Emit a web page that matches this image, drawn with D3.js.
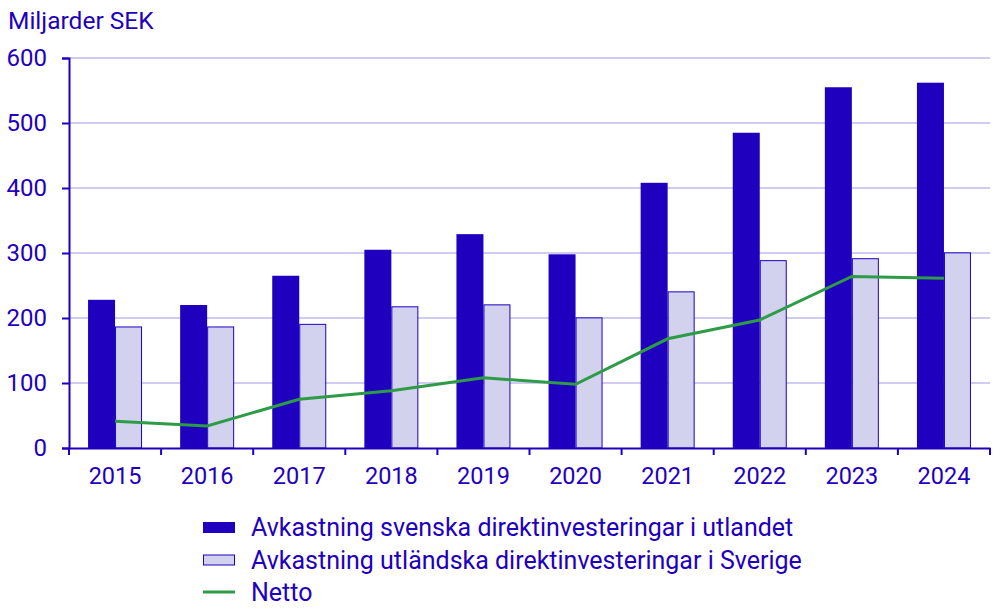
<!DOCTYPE html>
<html>
<head>
  <script src="https://d3js.org/d3.v7.min.js"></script>
  <style>
    body { margin: 0; background: #fff; }
    text { font-family: Roboto, "Noto Sans", sans-serif; fill: #1e00be; }
  </style>
</head>
<body>
  <script>
    // data (miljarder SEK)
    var years = ['2015', '2016', '2017', '2018', '2019', '2020', '2021', '2022', '2023', '2024'];
    var svenska = [228, 220, 265, 305, 329, 298, 408, 485, 555, 562];
    var utlandska = [187, 187, 191, 218, 221, 201, 241, 289, 292, 301];
    var netto = [41, 34, 75, 88, 108, 98, 168, 197, 264, 261];
    var yTicks = [0, 100, 200, 300, 400, 500, 600];
    var seriesNames = ['Avkastning svenska direktinvesteringar i utlandet',
                       'Avkastning utländska direktinvesteringar i Sverige',
                       'Netto'];

    var width = 1000, height = 610;
    var blue = '#1e00be', light = '#d2d2ef', grid = '#cfcbf1', green = '#2e9b46';
    var mLeft = 69, mRight = 990, mTop = 58, mBottom = 448;

    var svg = d3.select('body').append('svg')
      .attr('width', width).attr('height', height);

    var x = d3.scaleBand().domain(years).range([mLeft, mRight]);
    var y = d3.scaleLinear().domain([0, 600]).range([mBottom, mTop]);
    var barW = 27;

    // gridlines
    svg.append('g').selectAll('line')
      .data(yTicks.filter(function (d) { return d > 0; }))
      .enter().append('line')
      .attr('x1', mLeft).attr('x2', mRight)
      .attr('y1', function (d) { return y(d); })
      .attr('y2', function (d) { return y(d); })
      .attr('stroke', grid).attr('stroke-width', 2);

    // bars
    svg.append('g').selectAll('rect')
      .data(svenska).enter().append('rect')
      .attr('x', function (d, i) { return x(years[i]) + x.bandwidth() / 2 - barW; })
      .attr('y', function (d) { return y(d); })
      .attr('width', barW)
      .attr('height', function (d) { return y(0) - y(d); })
      .attr('fill', blue);

    svg.append('g').selectAll('rect')
      .data(utlandska).enter().append('rect')
      .attr('x', function (d, i) { return x(years[i]) + x.bandwidth() / 2 + 0.5; })
      .attr('y', function (d) { return y(d) + 0.5; })
      .attr('width', barW - 1)
      .attr('height', function (d) { return y(0) - y(d) - 0.5; })
      .attr('fill', light).attr('stroke', blue).attr('stroke-width', 1);

    // netto line
    var line = d3.line()
      .x(function (d, i) { return x(years[i]) + x.bandwidth() / 2; })
      .y(function (d) { return y(d); });
    svg.append('path').datum(netto)
      .attr('d', line)
      .attr('fill', 'none').attr('stroke', green).attr('stroke-width', 3);

    // y axis
    var yAxis = svg.append('g').attr('transform', 'translate(' + mLeft + ',0)')
      .call(d3.axisLeft(y).tickValues(yTicks).tickSize(7).tickPadding(15));
    yAxis.select('.domain').attr('stroke', blue).attr('stroke-width', 2);
    yAxis.selectAll('.tick line').attr('stroke', blue).attr('stroke-width', 2);
    yAxis.selectAll('.tick text').attr('font-size', 24).style('fill', blue)
      .attr('font-family', 'Roboto, sans-serif');

    // x axis
    var xAxis = svg.append('g').attr('transform', 'translate(0,' + mBottom + ')')
      .call(d3.axisBottom(x).tickSize(0).tickPadding(19));
    xAxis.select('.domain').attr('stroke', blue).attr('stroke-width', 2);
    xAxis.selectAll('.tick text').attr('font-size', 23.5).style('fill', blue)
      .attr('font-family', 'Roboto, sans-serif');
    // category boundary ticks
    svg.append('g').selectAll('line')
      .data(years.concat(['end'])).enter().append('line')
      .attr('x1', function (d, i) { return mLeft + i * x.step(); })
      .attr('x2', function (d, i) { return mLeft + i * x.step(); })
      .attr('y1', mBottom).attr('y2', mBottom + 7)
      .attr('stroke', blue).attr('stroke-width', 2);

    svg.append('text').attr('x', 8).attr('y', 29)
      .attr('font-size', 24.5).text('Miljarder SEK');

    // legend
    var leg = svg.append('g').attr('transform', 'translate(203,527)');
    var rows = leg.selectAll('g').data(seriesNames).enter().append('g')
      .attr('transform', function (d, i) { return 'translate(0,' + i * 32.5 + ')'; });
    rows.each(function (d, i) {
      var g = d3.select(this);
      if (i === 0) {
        g.append('rect').attr('x', 0).attr('y', -5).attr('width', 32).attr('height', 11).attr('fill', blue);
      } else if (i === 1) {
        g.append('rect').attr('x', 0.5).attr('y', -4.5).attr('width', 31).attr('height', 10)
          .attr('fill', light).attr('stroke', blue);
      } else {
        g.append('line').attr('x1', 0).attr('x2', 32).attr('y1', 0).attr('y2', 0)
          .attr('stroke', green).attr('stroke-width', 3);
      }
      g.append('text').attr('x', 48).attr('y', 9).attr('font-size', 25).text(d);
    });
  </script>
</body>
</html>
